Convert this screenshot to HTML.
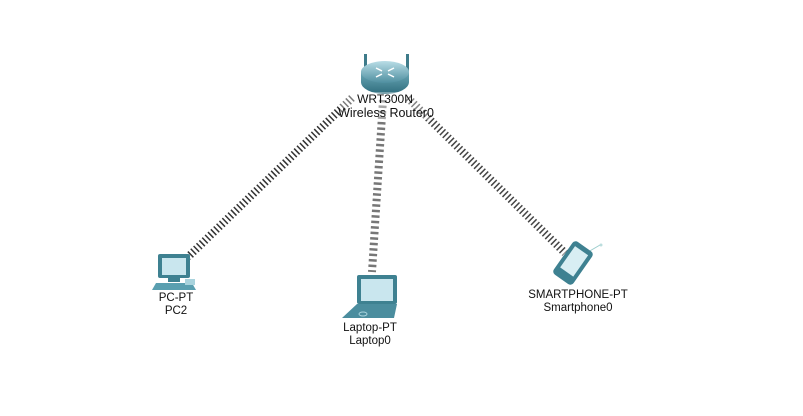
<!DOCTYPE html>
<html><head><style>
html,body{margin:0;padding:0;background:#fff;}
svg{display:block}
text{font-family:"Liberation Sans",sans-serif;font-size:11.5px;fill:#111;text-anchor:middle}
</style></head><body>
<svg width="803" height="416" viewBox="0 0 803 416" xmlns="http://www.w3.org/2000/svg">
<defs>
<linearGradient id="rg" x1="0" y1="0" x2="0" y2="1"><stop offset="0" stop-color="#b9dde6"/><stop offset="1" stop-color="#4f8fa0"/></linearGradient>
<linearGradient id="rs" x1="0" y1="0" x2="0" y2="1"><stop offset="0" stop-color="#6aa7b6"/><stop offset="1" stop-color="#2f6d7d"/></linearGradient>
</defs>
<line x1="352" y1="98" x2="188" y2="257" stroke="#333" stroke-width="8" stroke-dasharray="1.5,2.5"/>
<line x1="408" y1="98" x2="565" y2="253" stroke="#444" stroke-width="8" stroke-dasharray="1.5,2.5"/>
<line x1="383" y1="100" x2="372" y2="272" stroke="#777" stroke-width="8" stroke-dasharray="2.5,3"/>
<rect x="364" y="54" width="3" height="18" fill="#3e7b8a"/>
<rect x="406" y="54" width="3" height="18" fill="#3e7b8a"/>
<path d="M361 72 L361 82 A24 12 0 0 0 409 82 L409 72 Z" fill="url(#rs)"/>
<ellipse cx="385" cy="72" rx="24" ry="11" fill="url(#rg)"/>
<path d="M376 68 l6 3 M394 68 l-6 3 M376 77 l6 -3 M394 77 l-6 -3" stroke="#fff" stroke-width="1.5"/>
<rect x="340" y="92" width="90" height="28" fill="#fff" opacity="0.35"/>
<text x="385" y="103" style="font-size:12px">WRT300N</text>
<text x="386" y="117" style="font-size:12.5px">Wireless Router0</text>
<rect x="158" y="254" width="32" height="24" rx="2" fill="#3e8191"/>
<rect x="162" y="258" width="24" height="17" fill="#c9e6ee"/>
<rect x="168" y="278" width="12" height="4" fill="#3e8191"/>
<path d="M156 283 L192 283 L196 290 L152 290 Z" fill="#5a9fb0"/>
<rect x="185" y="279" width="10" height="6" fill="#a9d3dd"/>
<text x="176" y="301">PC-PT</text>
<text x="176" y="314">PC2</text>
<rect x="357" y="275" width="40" height="29" rx="2" fill="#3e8191"/>
<rect x="361" y="279" width="32" height="22" fill="#c9e6ee"/>
<path d="M357 304 L397 304 L394 318 L342 318 Z" fill="#4b8d9e"/>
<ellipse cx="363" cy="314" rx="4" ry="2" fill="none" stroke="#a9d3dd"/>
<text x="370" y="331">Laptop-PT</text>
<text x="370" y="344">Laptop0</text>
<line x1="588" y1="252" x2="600" y2="245" stroke="#9cc" stroke-width="1"/>
<circle cx="601" cy="245" r="1.5" fill="#bdd"/>
<g transform="rotate(35 573 263)">
<rect x="561" y="243" width="24" height="40" rx="4" fill="#3e8191"/>
<rect x="565" y="248" width="16" height="26" fill="#d8eef3"/>
</g>
<text x="578" y="298">SMARTPHONE-PT</text>
<text x="578" y="311">Smartphone0</text>
</svg>
</body></html>
